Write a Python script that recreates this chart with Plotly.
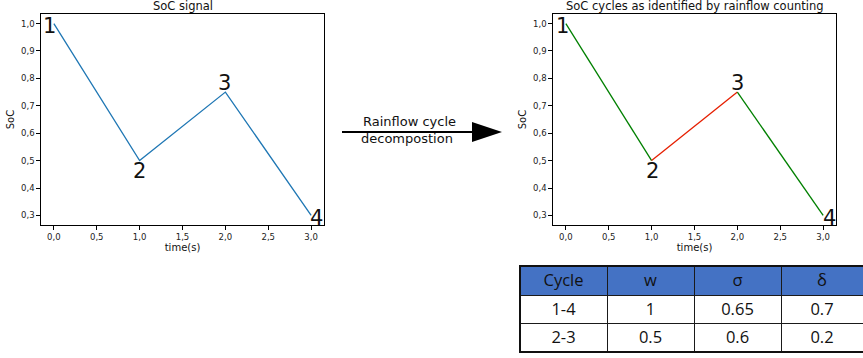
import plotly.graph_objects as go

# ---- data ----
time_s = [0, 1, 2, 3]
soc = [1.0, 0.5, 0.75, 0.3]
point_labels = ["1", "2", "3", "4"]
segment_colors = ["green", "#e61e00", "green"]  # rainflow cycle colouring of each segment

table_header = ["Cycle", "w", "σ", "δ"]
table_cycle = ["1-4", "2-3"]
table_w = ["1", "0.5"]
table_sigma = ["0.65", "0.6"]
table_delta = ["0.7", "0.2"]

xticks = [0, 0.5, 1.0, 1.5, 2.0, 2.5, 3.0]
yticks = [0.3, 0.4, 0.5, 0.6, 0.7, 0.8, 0.9, 1.0]

W, H = 863, 358
FONT = "DejaVu Sans"

fig = go.Figure()

# left panel: raw signal
fig.add_trace(go.Scatter(x=time_s, y=soc, mode="lines",
                         line=dict(color="#1f77b4", width=1.3),
                         xaxis="x", yaxis="y", showlegend=False, hoverinfo="skip"))

# right panel: segments coloured by cycle
for i, c in enumerate(segment_colors):
    fig.add_trace(go.Scatter(x=time_s[i:i + 2], y=soc[i:i + 2], mode="lines",
                             line=dict(color=c, width=1.3),
                             xaxis="x2", yaxis="y2", showlegend=False, hoverinfo="skip"))

# table
fig.add_trace(go.Table(
    domain=dict(x=[520 / W, 1.0], y=[0, 1 - 266 / H]),
    columnwidth=[87, 87, 87, 82],
    header=dict(values=table_header, fill_color="#4472C4", height=29,
                line=dict(color="#1a1a1a", width=1),
                font=dict(family="Open Sans", size=16.5, color="#111111"),
                align="center"),
    cells=dict(values=[table_cycle, table_w, table_sigma, table_delta],
               fill_color="white", height=28,
               line=dict(color="#1a1a1a", width=1),
               font=dict(family="Open Sans", size=16.5, color="#111111"),
               align="center"),
))

xr = [-0.15, 3.15]
yr = [0.265, 1.035]
ax_common = dict(range=xr, tickvals=xticks, tickformat=".1f", showgrid=False, zeroline=False,
                 showline=True, mirror=True, linecolor="black", linewidth=1.3,
                 ticks="outside", ticklen=3.5, tickcolor="black", tickwidth=0.8,
                 tickfont=dict(family=FONT, size=8.5, color="#222"),
                 title=dict(text="time(s)", font=dict(family=FONT, size=10, color="#111"), standoff=0))
ay_common = dict(range=yr, tickvals=yticks, tickformat=".1f", showgrid=False, zeroline=False,
                 showline=True, mirror=True, linecolor="black", linewidth=1.3,
                 ticks="outside", ticklen=3.5, tickcolor="black", tickwidth=0.8,
                 tickfont=dict(family=FONT, size=8.5, color="#222"),
                 title=dict(text="SoC", font=dict(family=FONT, size=10, color="#111"), standoff=4))

yd = [1 - 225 / H, 1 - 14 / H]
fig.update_layout(
    width=W, height=H, margin=dict(l=0, r=0, t=0, b=0),
    paper_bgcolor="white", plot_bgcolor="white",
    separators=", ",
    xaxis=dict(ax_common, domain=[41 / W, 324 / W], anchor="y"),
    yaxis=dict(ay_common, domain=yd, anchor="x"),
    xaxis2=dict(ax_common, domain=[553 / W, 836 / W], anchor="y2"),
    yaxis2=dict(ay_common, domain=yd, anchor="x2"),
)

# titles
fig.add_annotation(text="SoC signal", x=(41 + 324) / 2 / W, y=1 - 6 / H, xref="paper", yref="paper",
                   xanchor="center", yanchor="middle",
                   showarrow=False, font=dict(family=FONT, size=11.5, color="#111"))
fig.add_annotation(text="SoC cycles as identified by rainflow counting", x=(553 + 836) / 2 / W, y=1 - 6 / H,
                   xref="paper", yref="paper", xanchor="center", yanchor="middle",
                   showarrow=False, font=dict(family=FONT, size=11.5, color="#111"))

# point labels
shifts = [(-4, -2), (0, -10), (-1, 9), (5, -3)]
for axn, xs in (("", 0), ("2", 1)):
    for t, s, lab, (dx, dy) in zip(time_s, soc, point_labels, shifts):
        fig.add_annotation(text=lab, x=t, y=s, xref="x" + axn, yref="y" + axn, showarrow=False,
                           xshift=dx + xs, yshift=dy, xanchor="center", yanchor="middle",
                           font=dict(family=FONT, size=21, color="#111"))

# arrow between panels
fig.add_shape(type="line", xref="paper", yref="paper", x0=342 / W, x1=473 / W,
              y0=1 - 132 / H, y1=1 - 132 / H, line=dict(color="black", width=2))
fig.add_shape(type="path", xref="paper", yref="paper",
              path=f"M {472 / W} {1 - 122 / H} L {502 / W} {1 - 132 / H} L {472 / W} {1 - 142 / H} Z",
              fillcolor="black", line=dict(color="black", width=0))
fig.add_annotation(text="Rainflow cycle", x=409 / W, y=1 - 122 / H, xref="paper", yref="paper",
                   xanchor="center", yanchor="middle",
                   showarrow=False, font=dict(family=FONT, size=13, color="#111"))
fig.add_annotation(text="decompostion", x=407 / W, y=1 - 138 / H, xref="paper", yref="paper",
                   xanchor="center", yanchor="middle",
                   showarrow=False, font=dict(family=FONT, size=13, color="#111"))

# thick outer border of table
fig.add_shape(type="rect", xref="paper", yref="paper", x0=520 / W, x1=1.0 + 5 / W,
              y0=1 - 352 / H, y1=1 - 266 / H, line=dict(color="#111", width=2), fillcolor="rgba(0,0,0,0)")

fig.write_html("out.html")
